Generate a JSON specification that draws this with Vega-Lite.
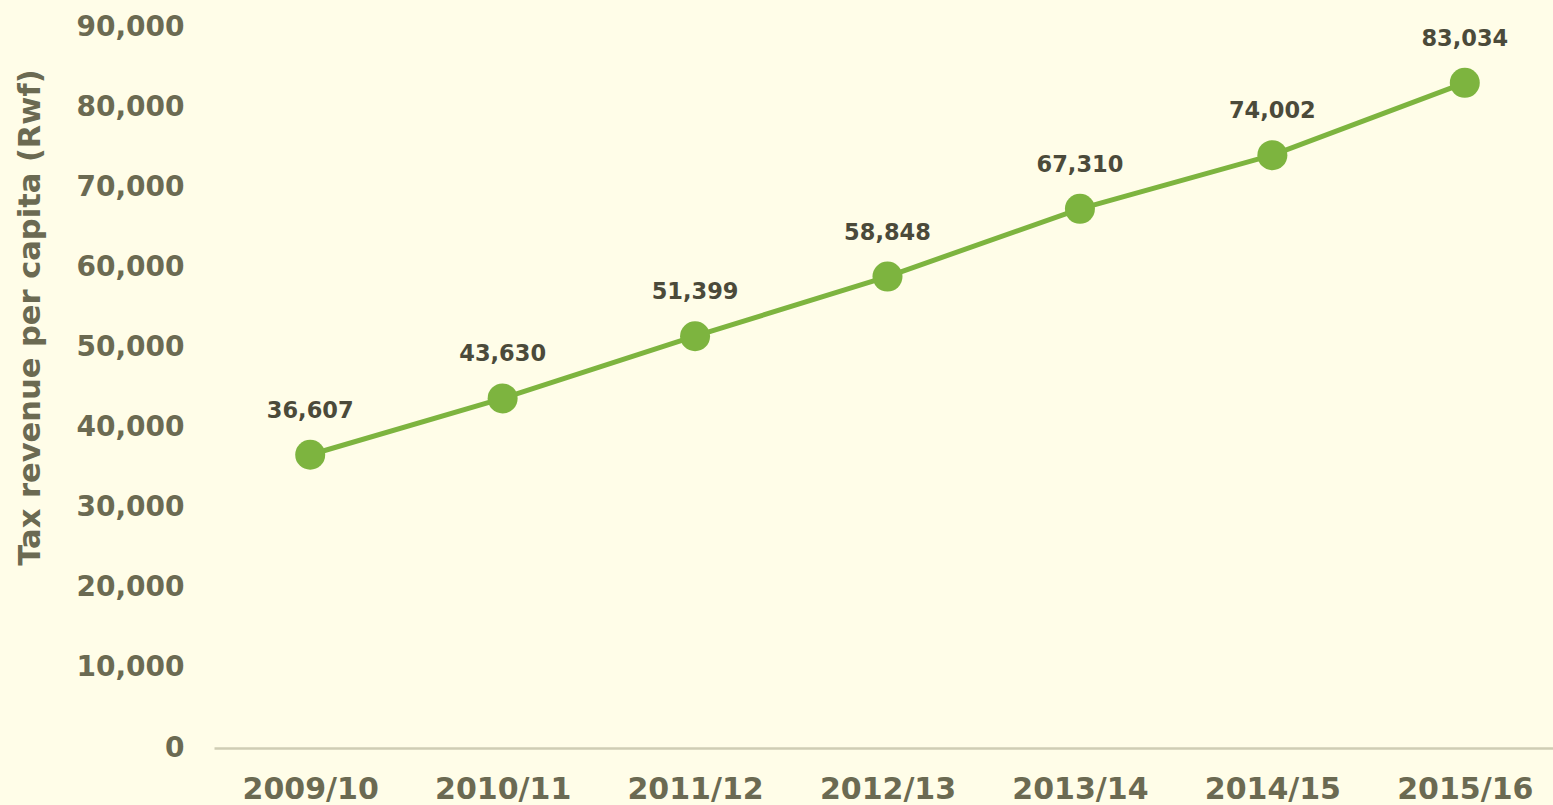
{
  "$schema": "https://vega.github.io/schema/vega-lite/v6.json",
  "autosize": {"type": "none"},
  "width": 1347,
  "height": 721,
  "padding": {"left": 214, "top": 27, "right": 0, "bottom": 57},
  "background": "#fffde8",
  "config": {"view": {"stroke": null}, "font": "DejaVu Sans"},
  "data": {"values": [
    {"year": "2009/10", "value": 36607},
    {"year": "2010/11", "value": 43630},
    {"year": "2011/12", "value": 51399},
    {"year": "2012/13", "value": 58848},
    {"year": "2013/14", "value": 67310},
    {"year": "2014/15", "value": 74002},
    {"year": "2015/16", "value": 83034}
  ]},
  "encoding": {
    "x": {"field": "year", "type": "ordinal", "sort": null,
      "scale": {"type": "point", "padding": 0.5},
      "axis": {"title": null, "labelAngle": 0, "labelFont": "DejaVu Sans", "labelFontWeight": "bold", "labelFontSize": 30, "labelColor": "#6b6a52", "labelPadding": 26, "ticks": false, "domainColor": "#cfcdb4", "domainWidth": 2.5, "grid": false}},
    "y": {"field": "value", "type": "quantitative",
      "scale": {"domain": [0, 90000], "nice": false},
      "axis": {"title": "Tax revenue per capita (Rwf)", "titleFont": "DejaVu Sans", "titleFontWeight": "bold", "titleFontSize": 30.5, "titleColor": "#6b6a52", "titleX": -184, "titleY": 290, "titleAlign": "center", "titleBaseline": "middle", "values": [0,10000,20000,30000,40000,50000,60000,70000,80000,90000], "format": ",d", "labelFont": "DejaVu Sans", "labelFontWeight": "bold", "labelFontSize": 28, "labelColor": "#6b6a52", "labelPadding": 30, "ticks": false, "domain": false, "grid": false}}
  },
  "layer": [
    {"mark": {"type": "line", "color": "#7db43f", "strokeWidth": 5}},
    {"mark": {"type": "point", "filled": true, "opacity": 1, "color": "#7db43f", "size": 900, "shape": "circle"}},
    {"mark": {"type": "text", "dy": -44, "font": "DejaVu Sans", "fontWeight": "bold", "fontSize": 22.5, "color": "#4b4a3a", "baseline": "middle"},
      "encoding": {"text": {"field": "value", "type": "quantitative", "format": ",d"}}}
  ]
}
